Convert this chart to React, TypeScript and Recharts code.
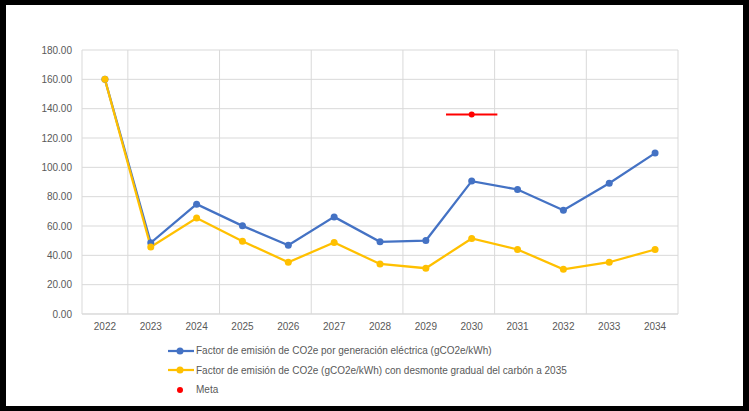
import { ComposedChart, Line, Scatter, ErrorBar, XAxis, YAxis, CartesianGrid } from 'recharts';

const years = [2022, 2023, 2024, 2025, 2026, 2027, 2028, 2029, 2030, 2031, 2032, 2033, 2034];
const emisionGeneracion = [160, 48.5, 74.9, 60.1, 46.9, 66.2, 49.2, 50.1, 90.6, 84.9, 70.8, 89.2, 109.7];
const emisionDesmonte = [160, 45.7, 65.5, 49.6, 35.3, 48.7, 34.1, 31.2, 51.5, 44.0, 30.5, 35.3, 44.0];
const metaYear = 2030;
const metaValue = 136;
const metaHalfWidth = 0.56;
const yTicks = [0, 20, 40, 60, 80, 100, 120, 140, 160, 180];

const BLUE = '#4472c4';
const YELLOW = '#ffc000';
const RED = '#ff0000';
const TEXT = '#595959';
const GRID = '#d9d9d9';

const legendItems = [
  { label: 'Factor de emisión de CO2e por generación eléctrica (gCO2e/kWh)', color: BLUE, line: true },
  { label: 'Factor de emisión de CO2e (gCO2e/kWh) con desmonte gradual del carbón a 2035', color: YELLOW, line: true },
  { label: 'Meta', color: RED, line: false },
];

const data = years.map((year, i) => ({
  year,
  generacion: emisionGeneracion[i],
  desmonte: emisionDesmonte[i],
}));

const metaData = [{ year: metaYear, meta: metaValue, err: metaHalfWidth }];

const domain: [number, number] = [years[0] - 0.5, years[years.length - 1] + 0.5];
// category boundaries, where Excel draws the vertical gridlines
const boundaries = [...years.map(y => y - 0.5), years[years.length - 1] + 0.5];

const font = '"Liberation Sans", Arial, sans-serif';

export default function App() {
  return (
    <div style={{ position: 'fixed', left: 0, top: 0, width: 749, height: 411, background: '#000' }}>
      <div style={{ position: 'absolute', left: 6, top: 5, width: 737, height: 401, background: '#fff', fontFamily: font }}>
        <ComposedChart width={737} height={401} data={data} margin={{ top: 45, right: 65, bottom: 62, left: 0 }}>
          <CartesianGrid xAxisId="grid" stroke={GRID} />
          <XAxis xAxisId="grid" hide height={0} type="number" dataKey="year" domain={domain} ticks={boundaries} allowDataOverflow />
          <XAxis
            xAxisId="yr"
            type="number"
            dataKey="year"
            domain={domain}
            ticks={years}
            interval={0}
            allowDataOverflow
            height={30}
            tickLine={false}
            tickSize={0}
            tickMargin={9}
            axisLine={{ stroke: GRID }}
            tick={{ fill: TEXT, fontSize: 10, fontFamily: font }}
          />
          <YAxis
            width={76}
            domain={[0, 180]}
            ticks={yTicks}
            interval={0}
            axisLine={false}
            tickLine={false}
            tickSize={0}
            tickMargin={10}
            tick={{ fill: TEXT, fontSize: 10, fontFamily: font }}
            tickFormatter={(v: number) => v.toFixed(2)}
          />
          <Line
            xAxisId="yr"
            dataKey="generacion"
            stroke={BLUE}
            strokeWidth={2.25}
            dot={{ r: 3.5, fill: BLUE, stroke: BLUE, strokeWidth: 0 }}
            activeDot={false}
            isAnimationActive={false}
          />
          <Line
            xAxisId="yr"
            dataKey="desmonte"
            stroke={YELLOW}
            strokeWidth={2.25}
            dot={{ r: 3.5, fill: YELLOW, stroke: YELLOW, strokeWidth: 0 }}
            activeDot={false}
            isAnimationActive={false}
          />
          <Scatter
            xAxisId="yr"
            data={metaData}
            dataKey="meta"
            fill={RED}
            isAnimationActive={false}
            shape={(p: any) => <circle cx={p.cx} cy={p.cy} r={3} fill={RED} />}
          >
            <ErrorBar dataKey="err" direction="x" stroke={RED} strokeWidth={2} width={0} isAnimationActive={false} />
          </Scatter>
        </ComposedChart>
        <div style={{ position: 'absolute', left: 162, top: 336 }}>
          {legendItems.map(item => (
            <div key={item.label} style={{ display: 'flex', alignItems: 'center', height: 19.5 }}>
              <svg width={27} height={10} style={{ marginRight: 1 }}>
                {item.line && <line x1={0} y1={5} x2={26} y2={5} stroke={item.color} strokeWidth={2.25} />}
                <circle cx={12} cy={5} r={item.line ? 3.5 : 3} fill={item.color} />
              </svg>
              <span style={{ fontSize: 10, color: TEXT, whiteSpace: 'nowrap' }}>{item.label}</span>
            </div>
          ))}
        </div>
      </div>
    </div>
  );
}
